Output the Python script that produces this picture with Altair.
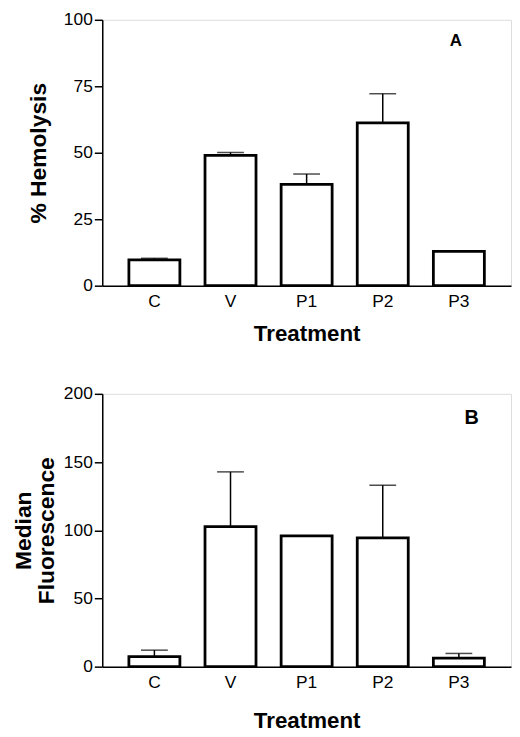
import pandas as pd
import altair as alt

treatments = ["C", "V", "P1", "P2", "P3"]

hemolysis = [9.7, 49.0, 38.1, 61.2, 12.9]
hemolysis_err = [0.6, 1.1, 3.9, 11.0, 0.0]

fluorescence = [7.3, 102.6, 95.9, 94.4, 6.3]
fluorescence_err = [4.8, 40.2, 0.0, 38.6, 3.4]

FONT = "Liberation Sans"


def panel(values, errors, ymax, yticks, ytitle, ytitle_pad, letter, letter_y, letter_dx, letter_size,
          xtitle_pad, height):
    df = pd.DataFrame({"treatment": treatments, "value": values, "err": errors})
    df["upper"] = df["value"] + df["err"]

    x = alt.X(
        "treatment:N",
        sort=treatments,
        scale=alt.Scale(paddingInner=0.33, paddingOuter=0.35),
        axis=alt.Axis(
            title="Treatment", labelAngle=0, labelAlign="center", bandPosition=0.5,
            ticks=False, labelPadding=7,
            labelFontSize=17.5, titleFontSize=22.5, titleFontWeight="bold",
            titlePadding=xtitle_pad, domainColor="black", domainWidth=1.5,
            labelColor="black", titleColor="black", labelFont=FONT, titleFont=FONT,
        ),
    )
    y_scale = alt.Scale(domain=[0, ymax], nice=False)
    y_axis = alt.Axis(
        title=ytitle, values=yticks, grid=False, tickSize=8, tickColor="black",
        tickWidth=1.5, domainColor="black", domainWidth=1.5, labelPadding=2,
        labelFontSize=17.5, titleFontSize=23, titleFontWeight="bold", titlePadding=ytitle_pad,
        titleLineHeight=23,
        labelColor="black", titleColor="black", labelFont=FONT, titleFont=FONT,
    )

    base = alt.Chart(df)

    bars = base.mark_bar(fill="white", stroke="black", strokeWidth=2.8).encode(
        x=x,
        y=alt.Y("value:Q", scale=y_scale, axis=y_axis),
    )

    err = base.transform_filter("datum.err > 0")
    whisker = err.mark_rule(color="black", strokeWidth=1.5).encode(
        x=alt.X("treatment:N", sort=treatments),
        y="value:Q",
        y2="upper:Q",
    )
    cap = err.mark_tick(color="black", thickness=1.5, size=27).encode(
        x=alt.X("treatment:N", sort=treatments),
        y="upper:Q",
    )

    label = alt.Chart(pd.DataFrame({"treatment": ["P3"], "value": [letter_y], "text": [letter]})).mark_text(
        font=FONT, fontWeight="bold", fontSize=letter_size, color="black", dx=letter_dx
    ).encode(
        x=alt.X("treatment:N", sort=treatments),
        y="value:Q",
        text="text:N",
    )

    return (bars + whisker + cap + label).properties(width=412, height=height)


top = panel(hemolysis, hemolysis_err, 100, [0, 25, 50, 75, 100], "% Hemolysis", 13,
            "A", 92.2, -3, 17, 13, 268)
bottom = panel(fluorescence, fluorescence_err, 200, [0, 50, 100, 150, 200],
               ["Median", "Fluorescence"], 5, "B", 182, 13, 20, 19, 275)

chart = alt.vconcat(top, bottom, spacing=38).properties(
    padding={"left": 4, "top": -1, "right": 0, "bottom": 3}
).configure_view(
    stroke="black", strokeWidth=1.5
).configure(background="white")

chart.save("out.html", embed_options={"renderer": "svg", "actions": False})
